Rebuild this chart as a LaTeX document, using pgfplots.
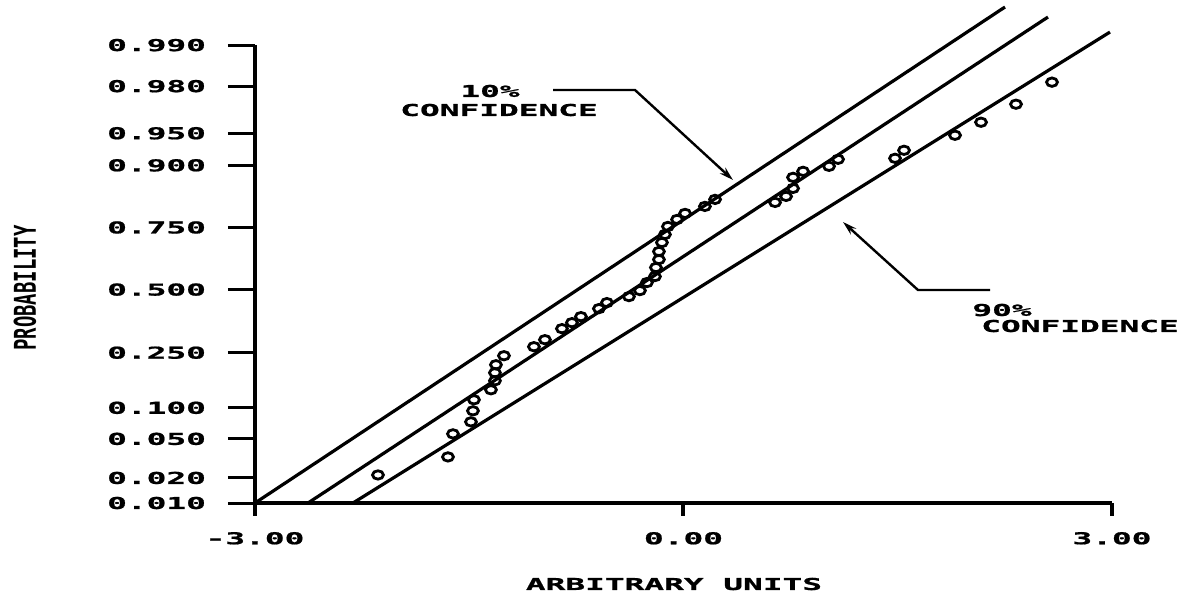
\documentclass[border=0pt]{standalone}
\usepackage{pgfplots}
\pgfplotsset{compat=1.18}
\usepackage{fontspec}
\usetikzlibrary{arrows.meta}
\setmainfont{DejaVu Sans}
\newfontfamily\plotfont{DejaVu Sans Mono}[FakeStretch=2.0, FakeBold=1]
\newfontfamily\ylabfont{DejaVu Sans Mono}[FakeStretch=0.63]
\newcommand\pf{\plotfont\bfseries\fontsize{8.2}{9}\selectfont}
\begin{document}
\begin{tikzpicture}
\useasboundingbox (0,0) rectangle (595.5pt,-298pt);
\begin{axis}[
  at={(127.5pt,-251.5pt)}, anchor=south west,
  scale only axis, width=428.5pt, height=228.5pt,
  xmin=-3, xmax=3, ymin=0, ymax=4.57,
  axis x line=bottom, axis y line=left,
  axis line style={-, line width=2pt},
  clip=false,
  tick align=outside, major tick length=13.5pt,
  xtick={-3,0,3}, xticklabels={-3.00,0.00,3.00},
  xtick style={draw=none},
  xticklabel style={font=\pf, yshift=2.5pt},
  ytick={0,0.25,0.64,0.95,1.50,2.13,2.75,3.37,3.69,4.16,4.57},
  yticklabels={0.010,0.020,0.050,0.100,0.250,0.500,0.750,0.900,0.950,0.980,0.990},
  ytick style={line width=1.5pt, black},
  yticklabel style={font=\pf, anchor=east, xshift=-7.5pt},
]
% confidence lines
\addplot[line width=1.6pt] coordinates {(-3,0) (2.251,4.95)};
\addplot[line width=1.6pt] coordinates {(-2.629,0) (2.552,4.85)};
\addplot[line width=1.6pt] coordinates {(-2.314,0) (2.986,4.70)};
% observations
\addplot[only marks, mark=o, mark size=2.1pt, mark options={line width=1.4pt, xscale=1.3, fill=white}] coordinates {
(-2.139,0.28) (-1.649,0.46) (-1.614,0.69) (-1.488,0.81) (-1.474,0.92) (-1.467,1.03)
(-1.348,1.13) (-1.320,1.22) (-1.320,1.30) (-1.313,1.38) (-1.257,1.47) (-1.047,1.56)
(-0.970,1.63) (-0.851,1.74) (-0.781,1.80) (-0.718,1.86) (-0.592,1.94) (-0.536,2.00)
(-0.382,2.06) (-0.305,2.12) (-0.256,2.20) (-0.200,2.26) (-0.193,2.35) (-0.172,2.43)
(-0.172,2.51) (-0.151,2.60) (-0.130,2.68) (-0.109,2.76) (-0.045,2.83) (0.011,2.89)
(0.150,2.96) (0.221,3.03) (0.641,3.00) (0.718,3.06) (0.767,3.14) (0.767,3.25)
(0.837,3.31) (1.019,3.36) (1.082,3.43) (1.481,3.44) (1.544,3.52) (1.901,3.67)
(2.083,3.80) (2.328,3.98) (2.580,4.20)};
% x ticks
\draw[line width=2pt] (axis cs:-3,0) -- ([yshift=-6.5pt]axis cs:-3,0);
\draw[line width=2pt] (axis cs:0,0) -- ([yshift=-6.5pt]axis cs:0,0);
\draw[line width=2pt] (axis cs:3,0) -- ([yshift=-6.5pt]axis cs:3,0);
\end{axis}
\begin{scope}[x=0.5pt,y=-0.5pt]
\node[font=\pf] at (674,584) {ARBITRARY UNITS};
\node[font={\ylabfont\bfseries\fontsize{15}{16}\selectfont}, rotate=90] at (25,288) {PROBABILITY};
\node[font=\pf] at (490,91) {10\%};
\node[font=\pf] at (499,110) {CONFIDENCE};
\draw[line width=1.2pt, -{Stealth[length=7pt,width=4pt]}] (553,90) -- (635,90) -- (733,180);
\node[font=\pf] at (1002,310) {90\%};
\node[font=\pf] at (1080,326) {CONFIDENCE};
\draw[line width=1.2pt, -{Stealth[length=7pt,width=4pt]}] (990,290) -- (918,290) -- (843,222);
\end{scope}
\end{tikzpicture}
\end{document}
